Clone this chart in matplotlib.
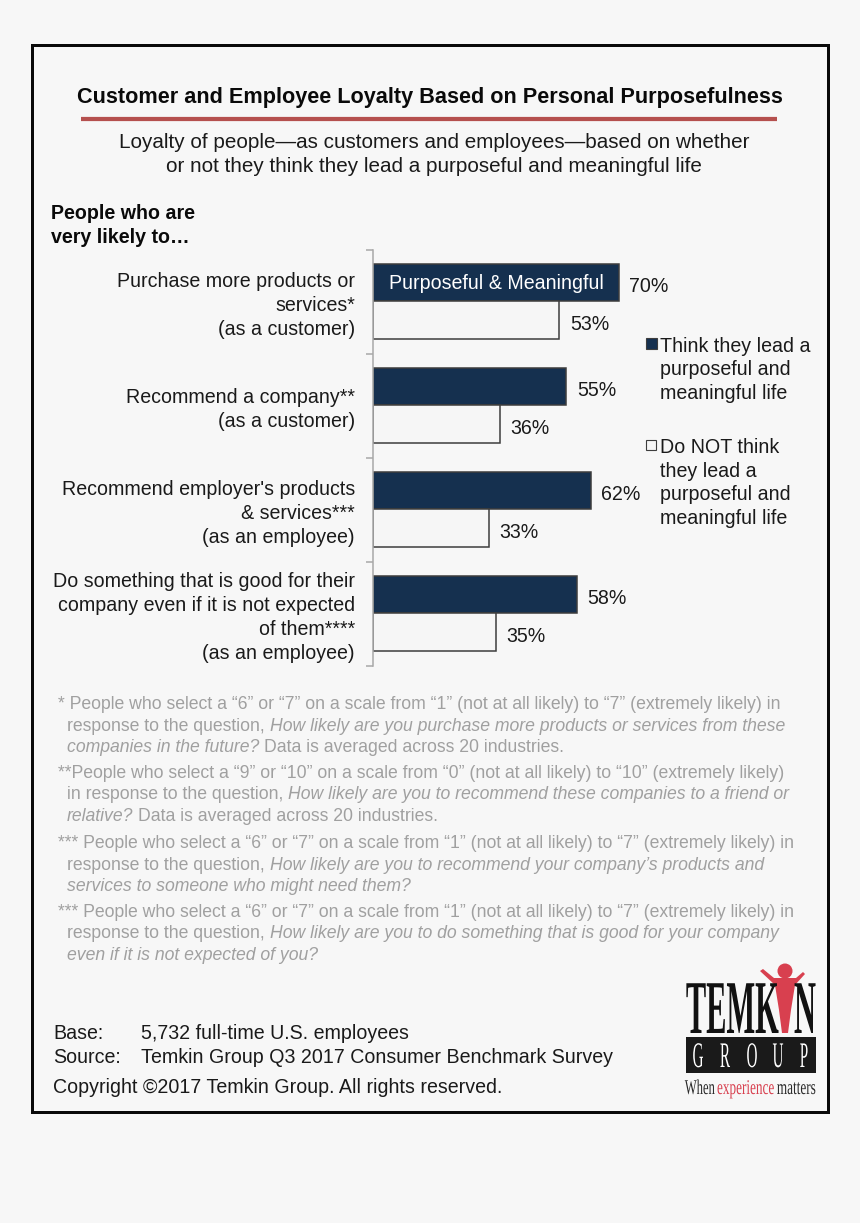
import matplotlib
matplotlib.use("Agg")
import matplotlib.pyplot as plt
from matplotlib.patches import Rectangle, Circle, Polygon
from matplotlib.patheffects import AbstractPathEffect
from matplotlib.transforms import Affine2D, ScaledTranslation

plt.rcParams['font.family'] = ['Liberation Sans', 'DejaVu Sans']

# ---- data ----
categories = ["Purchase more products or\nservices*\n(as a customer)",
              "Recommend a company**\n(as a customer)",
              "Recommend employer's products\n& services***\n(as an employee)",
              "Do something that is good for their\ncompany even if it is not expected\nof them****\n(as an employee)"]
purposeful = [70, 55, 62, 58]
not_purposeful = [53, 36, 33, 35]
bar_caption = "Purposeful & Meaningful"
legend_on = "Think they lead a\npurposeful and\nmeaningful life"
legend_off = "Do NOT think\nthey lead a\npurposeful and\nmeaningful life"
title = "Customer and Employee Loyalty Based on Personal Purposefulness"
subtitle = ["Loyalty of people—as customers and employees—based on whether",
            "or not they think they lead a purposeful and meaningful life"]
heading = ["People who are", "very likely to…"]
footnotes = [
    (703, 58, [("* People who select a “6” or “7” on a scale from “1” (not at all likely) to “7” (extremely likely) in", 0)]),
    (725, 67, [("response to the question, ", 0), ("How likely are you purchase more products or services from these", 1)]),
    (746, 67, [("companies in the future?", 1), (" Data is averaged across 20 industries.", 0)]),
    (772, 58, [("**People who select a “9” or “10” on a scale from “0” (not at all likely) to “10” (extremely likely)", 0)]),
    (793, 67, [("in response to the question, ", 0), ("How likely are you to recommend these companies to a friend or", 1)]),
    (815, 67, [("relative?", 1), (" Data is averaged across 20 industries.", 0)]),
    (842, 58, [("*** People who select a “6” or “7” on a scale from “1” (not at all likely) to “7” (extremely likely) in", 0)]),
    (864, 67, [("response to the question, ", 0), ("How likely are you to recommend your company’s products and", 1)]),
    (885, 67, [("services to someone who might need them?", 1)]),
    (911, 58, [("*** People who select a “6” or “7” on a scale from “1” (not at all likely) to “7” (extremely likely) in", 0)]),
    (932, 67, [("response to the question, ", 0), ("How likely are you to do something that is good for your company", 1)]),
    (954, 67, [("even if it is not expected of you?", 1)]),
]

BG = "#f7f7f7"; DARK = "#15304f"; LIGHT = "#f6f6f6"; INK = "#1a1a1a"; GREY = "#a0a0a0"; RED = "#d8404f"
W, H = 860, 1223
px = 0.72
BODY = 19.7
FOOT = 17.65

fig = plt.figure(figsize=(W/100, H/100), dpi=100, facecolor=BG)
bgax = fig.add_axes([0, 0, 1, 1])
bgax.set_xlim(0, W); bgax.set_ylim(H, 0); bgax.axis("off")

def T(x, yc, s, size=BODY, color=INK, ha="left", **kw):
    return bgax.text(x, yc + 0.36*size, s, fontsize=size*px, color=color, ha=ha, va="baseline", **kw)

# frame, title, rule
bgax.add_patch(Rectangle((32, 45), 796, 1067, fc="none", ec="#0a0a0a", lw=3*px))
T(430, 95, title, size=21.6, color="#0a0a0a", ha="center", fontweight="bold")
bgax.plot([81, 777], [119, 119], color="#b5504e", lw=4.2*px, solid_capstyle="butt")
for y, s in zip([141, 165], subtitle):
    T(434, y, s, size=20.6, ha="center")
for y, s in zip([212, 236], heading):
    T(51, y, s, size=19.7, color="#0a0a0a", fontweight="bold")

# chart
x0, x1, y0, y1 = 373, 373 + 100*3.514, 250, 666
ax = fig.add_axes([x0/W, 1 - y1/H, (x1-x0)/W, (y1-y0)/H])
ax.patch.set_alpha(0)
ax.set_xlim(0, 100); ax.set_ylim(3.5, -0.5)
pos = list(range(len(categories)))
h = 0.362
edge = "#3d3d3d"
bars_a = ax.barh([p - h/2 - 0.005 for p in pos], purposeful, height=h, color=DARK, edgecolor=edge, lw=1.1)
bars_b = ax.barh([p + h/2 - 0.005 for p in pos], not_purposeful, height=h, color=LIGHT, edgecolor=edge, lw=1.1)
for b, v in zip(bars_a, purposeful):
    ax.annotate(f"{v}%", (v, b.get_y() + b.get_height()/2), xytext=(10.5*px, -3.5*px), textcoords="offset points",
                ha="left", va="center", fontsize=BODY*px, color=INK)
for b, v in zip(bars_b, not_purposeful):
    ax.annotate(f"{v}%", (v, b.get_y() + b.get_height()/2), xytext=(10.5*px, -4.5*px), textcoords="offset points",
                ha="left", va="center", fontsize=BODY*px, color=INK)
ax.text(35.0, pos[0] - h/2, bar_caption, color="white", ha="center", va="center", fontsize=BODY*px)
for s in ("top", "right", "bottom"):
    ax.spines[s].set_visible(False)
ax.spines["left"].set_color("#a8a8a8"); ax.spines["left"].set_linewidth(1.1)
ax.set_xticks([])
ax.set_yticks([p - 0.5 for p in pos] + [3.5])
ax.set_yticklabels([])
ax.tick_params(axis="y", which="major", length=5, width=1.1, color="#a8a8a8")
ax.set_yticks(pos, minor=True)
ax.set_yticklabels(categories, minor=True, fontsize=BODY*px, color=INK, linespacing=1.33, ha="right")
ax.tick_params(axis="y", which="minor", length=0, pad=18*px)
shift = ScaledTranslation(0, 1/100, fig.dpi_scale_trans)
for lab in ax.get_yticklabels(minor=True):
    lab.set_transform(lab.get_transform() + shift)

# legend
bgax.add_patch(Rectangle((646, 338), 11, 11, fc=DARK, ec=edge, lw=0.8))
bgax.add_patch(Rectangle((646, 440), 10, 10, fc=LIGHT, ec=edge, lw=0.8))
for y, s in zip([345, 368, 392], legend_on.split("\n")):
    T(660, y, s)
for y, s in zip([446, 470, 493, 517], legend_off.split("\n")):
    T(660, y, s)

# footnotes (mixed roman / italic runs)
r = fig.canvas.get_renderer()
space = None
for y, x, runs in footnotes:
    cx = x
    for s, it in runs:
        lead = len(s) - len(s.lstrip())
        trail = len(s) - len(s.rstrip())
        t = T(cx, y, s.strip(), size=FOOT, color=GREY, fontstyle="italic" if it else "normal")
        if space is None:
            probe = T(0, 0, "a a", size=FOOT); p2 = T(0, 0, "aa", size=FOOT)
            space = probe.get_window_extent(r).width - p2.get_window_extent(r).width
            probe.remove(); p2.remove()
        t.set_x(cx + lead*space)
        cx += (lead + trail)*space + t.get_window_extent(r).width

# base/source
T(53, 1032, "Base:"); T(141, 1032, "5,732 full-time U.S. employees")
T(53, 1056, "Source:"); T(141, 1056, "Temkin Group Q3 2017 Consumer Benchmark Survey")
T(53, 1086, "Copyright ©2017 Temkin Group. All rights reserved.")

# logo: condensed lettering, real text squeezed horizontally at draw time
class Squeeze(AbstractPathEffect):
    def __init__(self, sx, cx):
        super().__init__()
        self.sx, self.cx = sx, cx
    def draw_path(self, renderer, gc, tpath, affine, rgbFace=None):
        t = affine + Affine2D().translate(-self.cx, 0).scale(self.sx, 1).translate(self.cx, 0)
        renderer.draw_path(gc, tpath, t, rgbFace)

def logo_text(x, base, s, size, color, sx, ha="left", **kw):
    t = bgax.text(x, base, s, fontsize=size*px, color=color, family="Liberation Serif", ha=ha, va="baseline", **kw)
    t.set_path_effects([Squeeze(sx, x)])
    return t

logo_text(816, 1033, "TEMK  N", 76, "#111111", 0.40, ha="right", fontweight="bold")

bgax.add_patch(Rectangle((686, 1037), 130, 36, fc="#1a1a1a", ec="none"))
for x, ch in zip([698, 725, 752, 778, 804], "GROUP"):
    logo_text(x, 1067, ch, 36, "white", 0.42, ha="center")

# person (the I of the logo)
bgax.add_patch(Circle((785, 971), 7.5, fc=RED, ec="none"))
bgax.add_patch(Polygon([(760, 971), (763, 969), (774, 978), (796, 978), (803, 972), (805, 974), (795, 985),
                        (791, 1010), (788, 1033), (782, 1033), (779, 1010), (775, 985)], fc=RED, ec="none"))
logo_text(715, 1094, "When", 21, "#2a2a2a", 0.6, ha="right")
logo_text(717, 1094, "experience", 21, RED, 0.63)
logo_text(816, 1094, "matters", 21, "#2a2a2a", 0.63, ha="right")

fig.savefig("out.png", dpi=100, facecolor=BG)
